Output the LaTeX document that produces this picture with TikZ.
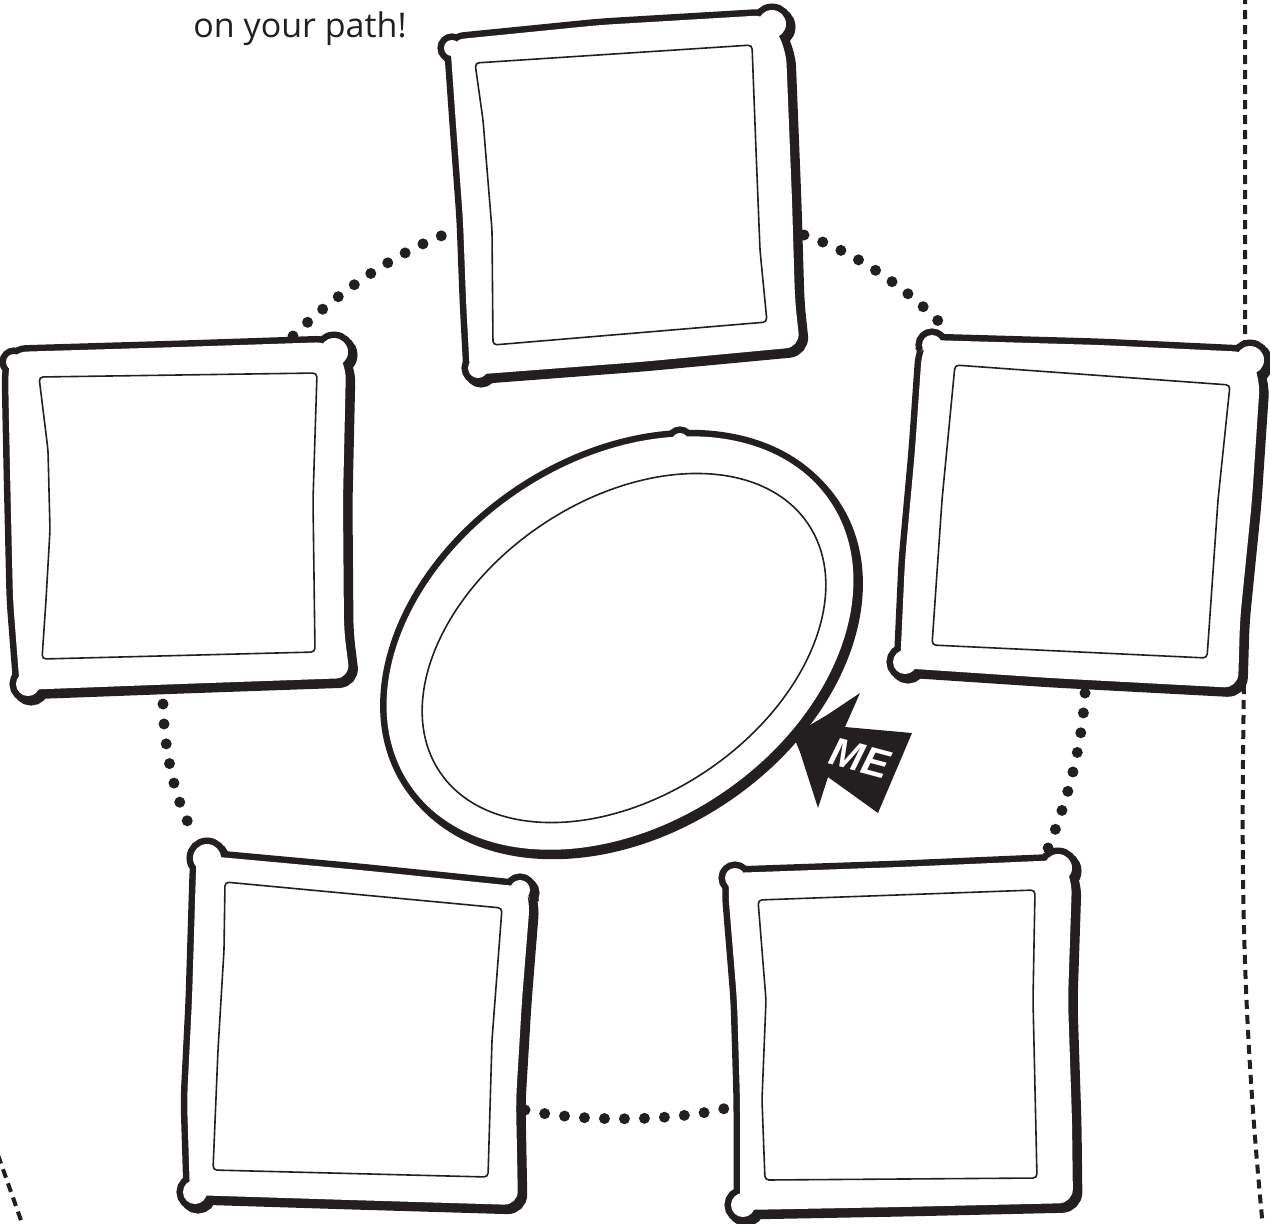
\documentclass[tikz,border=0pt]{standalone}
\usepackage{fontspec}
\newfontfamily\opensans{Open Sans}
\newfontfamily\mefont{Liberation Sans}
\definecolor{ink}{HTML}{231F20}
\newcommand\sketchbox[3]{%
  \draw[ink,line width=6.5pt,rounded corners=7pt,shift={(3,3)}] #1 #3;
  \draw[ink,line width=6.5pt,rounded corners=7pt] #1 #3;
  \fill[white,rounded corners=7pt] #1;
  \fill[white] #3;
  \draw[ink,line width=0.8pt,rounded corners=2pt] #2;
}
\begin{document}
\begin{tikzpicture}[x=0.5pt,y=-0.5pt,
  dots/.style={ink,line width=5.5pt,line cap=round,dash pattern=on 0pt off 10pt},
  border/.style={ink,line width=2pt,dash pattern=on 4.5pt off 3pt}]
\useasboundingbox (0,0) rectangle (1270,1223);

% page border fragments
\coordinate (r0) at (1245,-5);
\coordinate (r1) at (1245,600);
\coordinate (r2) at (1263,1228);
\draw[border] (r0) -- (r1) .. controls (1243,800) and (1236,950) .. (r2);
\coordinate (l0) at (-2,1155);
\coordinate (l1) at (23,1226);
\draw[border] (l0) -- (l1);

% dotted connectors
\coordinate (a1) at (293,336); \coordinate (a2) at (454,231);
\coordinate (b1) at (804,235); \coordinate (b2) at (947,330);
\coordinate (c1) at (163,704); \coordinate (c2) at (192,830);
\coordinate (d1) at (1085,693); \coordinate (d2) at (1043,860);
\coordinate (e1) at (525,1110); \coordinate (e2) at (727,1108);
\draw[dots] (a1) .. controls (340,290) and (400,250) .. (a2);
\draw[dots] (b1) .. controls (850,250) and (905,285) .. (b2);
\draw[dots] (c1) .. controls (164,750) and (175,800) .. (c2);
\draw[dots] (d1) .. controls (1082,750) and (1065,810) .. (d2);
\draw[dots] (e1) .. controls (580,1122) and (670,1122) .. (e2);

% top box
\sketchbox{(450,40) -- (600,25) -- (768,15) -- (786,50) -- (792,200) -- (795,300) -- (800,347) -- (640,362) -- (470,375) -- (466,300) -- (463,220) -- (456,125) -- cycle}
{(475,63) -- (752,45) -- (756,150) -- (760,250) -- (767,322) -- (493,345) -- (492,230) -- (483,120) -- cycle}
{(772,24) circle[radius=7pt] (478,368) circle[radius=5pt] (452,48) circle[radius=4pt]}

% left box
\sketchbox{(12,352) -- (180,347) -- (330,342) -- (346,365) -- (343,500) -- (344,630) -- (350,678) -- (180,684) -- (20,690) -- (13,600) -- (10,470) -- (8,370) -- cycle}
{(39,377) -- (317,373) -- (313,500) -- (315,652) -- (42,659) -- (46,600) -- (50,530) -- (48,450) -- cycle}
{(334,352) circle[radius=7pt] (28,684) circle[radius=6pt] (14,362) circle[radius=4pt]}

% right box
\sketchbox{(928,340) -- (1100,345) -- (1248,352) -- (1260,380) -- (1252,500) -- (1240,620) -- (1238,688) -- (1050,678) -- (900,668) -- (905,560) -- (915,450) -- (922,350) -- cycle}
{(955,365) -- (1230,385) -- (1218,500) -- (1207,658) -- (932,645) -- (942,500) -- cycle}
{(1250,360) circle[radius=7pt] (905,662) circle[radius=6pt] (932,345) circle[radius=5pt]}

% bottom-left box
\sketchbox{(197,855) -- (360,870) -- (525,887) -- (530,900) -- (522,1000) -- (516,1100) -- (518,1205) -- (350,1200) -- (190,1195) -- (187,1100) -- (192,1000) -- (196,870) -- cycle}
{(225,882) -- (502,908) -- (492,1040) -- (488,1177) -- (213,1170) -- (218,1050) -- (224,950) -- cycle}
{(207,858) circle[radius=7pt] (520,890) circle[radius=5pt] (195,1192) circle[radius=6pt]}

% bottom-right box
\sketchbox{(730,873) -- (900,867) -- (1062,860) -- (1072,880) -- (1068,1000) -- (1072,1120) -- (1073,1203) -- (900,1207) -- (740,1210) -- (740,1100) -- (737,1000) -- (728,890) -- cycle}
{(758,900) -- (1035,890) -- (1033,1000) -- (1037,1178) -- (765,1180) -- (762,1100) -- (766,1000) -- cycle}
{(1058,868) circle[radius=7pt] (743,1205) circle[radius=6pt] (735,878) circle[radius=5pt]}

% centre ellipse
\draw[ink,line width=6.5pt,shift={(623,646)},rotate=34] (0,0) ellipse [x radius=126.75pt, y radius=90.75pt];
\draw[ink,line width=6.5pt,shift={(620,643)},rotate=34] (0,0) ellipse [x radius=126.75pt, y radius=90.75pt];
\draw[ink,line width=6.5pt] (680,441) circle[radius=4pt];
\fill[white,shift={(620,643)},rotate=34] (0,0) ellipse [x radius=126.75pt, y radius=90.75pt];
\fill[white] (680,441) circle[radius=4pt];
\draw[ink,line width=0.8pt,shift={(624,648)},rotate=34] (0,0) ellipse [x radius=111pt, y radius=74pt];

% ME arrow
\coordinate (tip) at (793,735);
\fill[ink] (tip) -- (827,715) -- (860,693) -- (845,727) -- (912,733) -- (878,813) -- (828,777) -- (818,808) -- (800,752) -- cycle;
\node[rotate=-15,text=white,inner sep=0,font=\mefont\bfseries\itshape\fontsize{20}{20}\selectfont] (me) at (860,758) {ME};

% text
\node[anchor=base west,inner sep=0,text=ink,font=\opensans\fontsize{17}{20}\selectfont] (txt) at (193,37) {on your path!};
\end{tikzpicture}
\end{document}
